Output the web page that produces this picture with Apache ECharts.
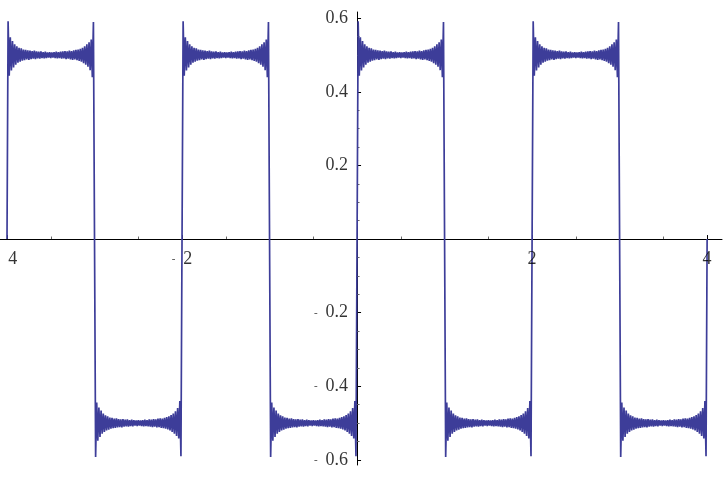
<!DOCTYPE html>
<html>
<head>
<meta charset="utf-8">
<script src="https://cdn.jsdelivr.net/npm/echarts@6/dist/echarts.min.js"></script>
<style>html,body{margin:0;padding:0;background:#fff}#c{width:728px;height:500px}</style>
</head>
<body>
<div id="c"></div>
<script>
// One half-period of the curve (rising edge at offset 0, level +0.5),
// sampled every 0.0125 along x.
const highSegment = [
  0, 0.592, 0.444, 0.548, 0.458, 0.538, 0.466, 0.529, 0.474, 0.524,
  0.479, 0.520, 0.482, 0.518, 0.485, 0.515, 0.486, 0.514, 0.488, 0.513,
  0.487, 0.512, 0.489, 0.511, 0.490, 0.512, 0.489, 0.510, 0.491, 0.509,
  0.490, 0.510, 0.492, 0.508, 0.491, 0.509, 0.492, 0.507, 0.493, 0.508,
  0.492, 0.507, 0.493, 0.508, 0.492, 0.509, 0.491, 0.508, 0.492, 0.509,
  0.490, 0.510, 0.491, 0.511, 0.489, 0.510, 0.490, 0.512, 0.488, 0.511,
  0.487, 0.513, 0.488, 0.514, 0.486, 0.515, 0.484, 0.517, 0.482, 0.520,
  0.478, 0.524, 0.474, 0.529, 0.468, 0.535, 0.459, 0.542, 0.440, 0.590
];
const segmentStarts = [-4, -3, -2, -1, 0, 1, 2, 3];
const segmentSigns  = [1, -1, 1, -1, 1, -1, 1, -1];
const sampleStep = 0.0125;
const endPoint = [4, 0];

const xMajorTicks = [-4, -2, 2, 4];
const xMinorTicks = [-3.5, -3, -2.5, -1.5, -1, -0.5, 0.5, 1, 1.5, 2.5, 3, 3.5];
const yMajorTicks = [-0.6, -0.4, -0.2, 0.2, 0.4, 0.6];
const yMinorTicks = [-0.55, -0.5, -0.45, -0.35, -0.3, -0.25, -0.15, -0.1, -0.05,
                     0.05, 0.1, 0.15, 0.25, 0.3, 0.35, 0.45, 0.5, 0.55];

const points = [];
segmentStarts.forEach((s, k) => {
  highSegment.forEach((v, i) => {
    points.push([s + i * sampleStep, segmentSigns[k] * v]);
  });
});
points.push(endPoint);

const FONT = '"Liberation Serif", "DejaVu Serif", serif';
const rich = {
  d: { fontSize: 11, fontFamily: FONT, color: '#000', padding: [0, 8, 0, 0] },
  n: { fontSize: 18, fontFamily: FONT, color: '#000' }
};
function fmt(v) {
  const r = Math.round(v * 10) / 10;
  const a = Math.abs(r);
  const s = Number.isInteger(a) ? String(a) : a.toFixed(1);
  return r < 0 ? '{d|-}{n|' + s + '}' : '{n|' + s + '}';
}

const axisLineStyle = { color: '#000', width: 1 };
const X_MIN = -4.08, X_MAX = 4.17, Y_MIN = -0.614, Y_MAX = 0.617;

const chart = echarts.init(document.getElementById('c'), null, { renderer: 'canvas' });
chart.setOption({
  animation: false,
  backgroundColor: '#fff',
  grid: { left: 0, right: 6, top: 12, bottom: 35, containLabel: false, outerBoundsMode: 'none' },
  xAxis: [
    {
      type: 'value', min: X_MIN, max: X_MAX, position: 'bottom',
      axisLine: { show: true, onZero: true, lineStyle: axisLineStyle },
      axisTick: { show: true, inside: true, length: 4, customValues: xMajorTicks, lineStyle: { color: '#000' } },
      axisLabel: { show: false },
      splitLine: { show: false }
    },
    {
      type: 'value', min: X_MIN, max: X_MAX, position: 'bottom',
      axisLine: { show: false, onZero: true },
      axisTick: { show: true, inside: true, length: 2.5, customValues: xMinorTicks, lineStyle: { color: '#666' } },
      axisLabel: { show: false },
      splitLine: { show: false }
    }
  ],
  yAxis: [
    {
      type: 'value', min: Y_MIN, max: Y_MAX, position: 'left',
      axisLine: { show: true, onZero: true, lineStyle: axisLineStyle },
      axisTick: { show: true, inside: true, length: 4, customValues: yMajorTicks, lineStyle: { color: '#000' } },
      axisLabel: { show: false },
      splitLine: { show: false }
    },
    {
      type: 'value', min: Y_MIN, max: Y_MAX, position: 'left',
      axisLine: { show: false, onZero: true },
      axisTick: { show: true, inside: true, length: 2.5, customValues: yMinorTicks, lineStyle: { color: '#666' } },
      axisLabel: { show: false },
      splitLine: { show: false }
    }
  ],
  series: [
    {
      type: 'line',
      xAxisIndex: 0, yAxisIndex: 0,
      data: points,
      showSymbol: false,
      symbol: 'none',
      smooth: false,
      lineStyle: { color: '#3d3d99', width: 1.7 },
      z: 1
    },
    {
      // tick labels of the x axis, placed through the axes at y = 0
      type: 'scatter',
      xAxisIndex: 0, yAxisIndex: 0,
      data: xMajorTicks.map(v => [v, 0]),
      symbolSize: 0,
      silent: true,
      label: {
        show: true, position: 'bottom', distance: 11,
        formatter: p => fmt(p.value[0]), rich: rich
      },
      z: 3
    },
    {
      // tick labels of the y axis, placed through the axes at x = 0
      type: 'scatter',
      xAxisIndex: 0, yAxisIndex: 0,
      data: yMajorTicks.map(v => [0, v]),
      symbolSize: 0,
      silent: true,
      label: {
        show: true, position: 'left', distance: 9,
        formatter: p => fmt(p.value[1]), rich: rich
      },
      z: 3
    }
  ]
});
</script>
</body>
</html>
